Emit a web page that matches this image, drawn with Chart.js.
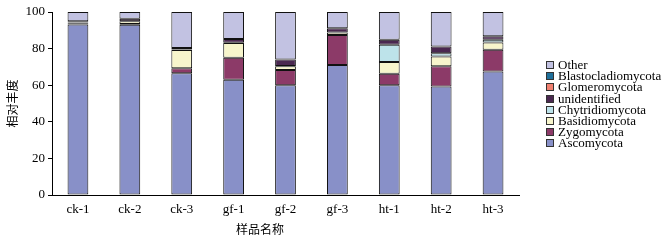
<!DOCTYPE html>
<html>
<head>
<meta charset="utf-8">
<script src="https://cdn.jsdelivr.net/npm/chart.js@4"></script>
<style>
  html, body { margin: 0; padding: 0; background: #fff; }
  #wrap { position: relative; width: 662px; height: 240px; }
  #xtitle { position: absolute; left: 230px; top: 220px; width: 60px; text-align: center;
    font: 12px "Noto Sans CJK SC", sans-serif; color: #000; }
  #legend { position: absolute; left: 546px; top: 59px; font: 13px "Liberation Serif", serif; color: #000; }
  #legend div { height: 11.2px; line-height: 11.2px; white-space: nowrap; }
  #legend span { display: inline-block; width: 6px; height: 6px; border: 1px solid #333;
    margin-right: 4px; vertical-align: 0px; }
</style>
</head>
<body>
<div id="wrap">
  <canvas id="chart" width="662" height="240"></canvas>
  <div id="xtitle">样品名称</div>
  <div id="legend"></div>
</div>
<script>
document.addEventListener("DOMContentLoaded", () => {
  // samples and phyla
  const samples = ["ck-1", "ck-2", "ck-3", "gf-1", "gf-2", "gf-3", "ht-1", "ht-2", "ht-3"];
  const phyla = ["Ascomycota", "Zygomycota", "Basidiomycota", "Chytridiomycota",
    "unidentified", "Glomeromycota", "Blastocladiomycota", "Other"];
  const colors = ["#8890c8", "#8c3a68", "#f7f5cc", "#bde3ea", "#4a2850", "#f08070", "#1f6f9a", "#c2c2e2"];

  // relative abundance (%) per phylum, one value per sample
  const ascomycota = [93.2, 93.0, 66.5, 63.0, 60.0, 71.0, 60.0, 59.3, 67.5];
  const zygomycota = [0.4, 0.5, 2.8, 12.0, 8.3, 16.5, 6.3, 11.0, 11.9];
  const basidiomycota = [0.5, 1.5, 10.0, 8.0, 2.0, 1.3, 6.4, 5.4, 4.0];
  const chytridiomycota = [0.1, 0, 0.2, 0.2, 0.2, 0, 9.4, 1.8, 1.5];
  const unidentified = [0.8, 1.3, 0.8, 2.0, 3.5, 2.3, 2.8, 3.7, 1.8];
  const glomeromycota = [0, 0, 0, 0, 0, 0, 0, 0, 0];
  const blastocladiomycota = [0, 0, 0, 0, 0, 0, 0, 0, 0];
  const other = [5.0, 3.7, 19.7, 14.8, 26.0, 8.9, 15.1, 18.8, 13.3];

  const yTicks = [0, 20, 40, 60, 80, 100];

  const series = [ascomycota, zygomycota, basidiomycota, chytridiomycota,
    unidentified, glomeromycota, blastocladiomycota, other];

  const serif = "'Liberation Serif', 'Times New Roman', serif";

  const ctx = document.getElementById("chart").getContext("2d");
  new Chart(ctx, {
    type: "bar",
    data: {
      labels: samples,
      datasets: phyla.map((name, i) => ({
        label: name,
        data: series[i],
        backgroundColor: colors[i],
        borderColor: "#111",
        borderWidth: 1,
        borderSkipped: false,
        barPercentage: 0.4,
        categoryPercentage: 1.0,
      })),
    },
    options: {
      responsive: false,
      animation: false,
      layout: { padding: { top: 12, right: 143, left: 0, bottom: 0 } },
      plugins: {
        legend: { display: false },
        tooltip: { enabled: false },
      },
      scales: {
        x: {
          stacked: true,
          grid: { display: false, drawTicks: false },
          border: { display: true, color: "#000", width: 1 },
          ticks: { color: "#000", font: { family: serif, size: 13 }, padding: 7 },
          afterFit: (s) => { s.height = 45; },
        },
        y: {
          stacked: true,
          min: 0,
          max: 100,
          afterBuildTicks: (s) => { s.ticks = yTicks.map((v) => ({ value: v })); },
          grid: { drawOnChartArea: false, drawTicks: true, tickLength: 4, color: "#000" },
          border: { display: true, color: "#000", width: 1 },
          ticks: { color: "#000", font: { family: serif, size: 13 }, padding: 3 },
          title: {
            display: true,
            text: "相对丰度",
            color: "#000",
            font: { family: "'Noto Sans CJK SC', sans-serif", size: 12 },
            padding: { top: 5, bottom: 0 },
          },
          afterFit: (s) => { s.width = 52; },
        },
      },
    },
  });

  // legend, top to bottom in reverse stacking order
  const legend = document.getElementById("legend");
  for (let i = phyla.length - 1; i >= 0; i--) {
    const row = document.createElement("div");
    const box = document.createElement("span");
    box.style.background = colors[i];
    row.appendChild(box);
    row.appendChild(document.createTextNode(phyla[i]));
    legend.appendChild(row);
  }
});
</script>
</body>
</html>
